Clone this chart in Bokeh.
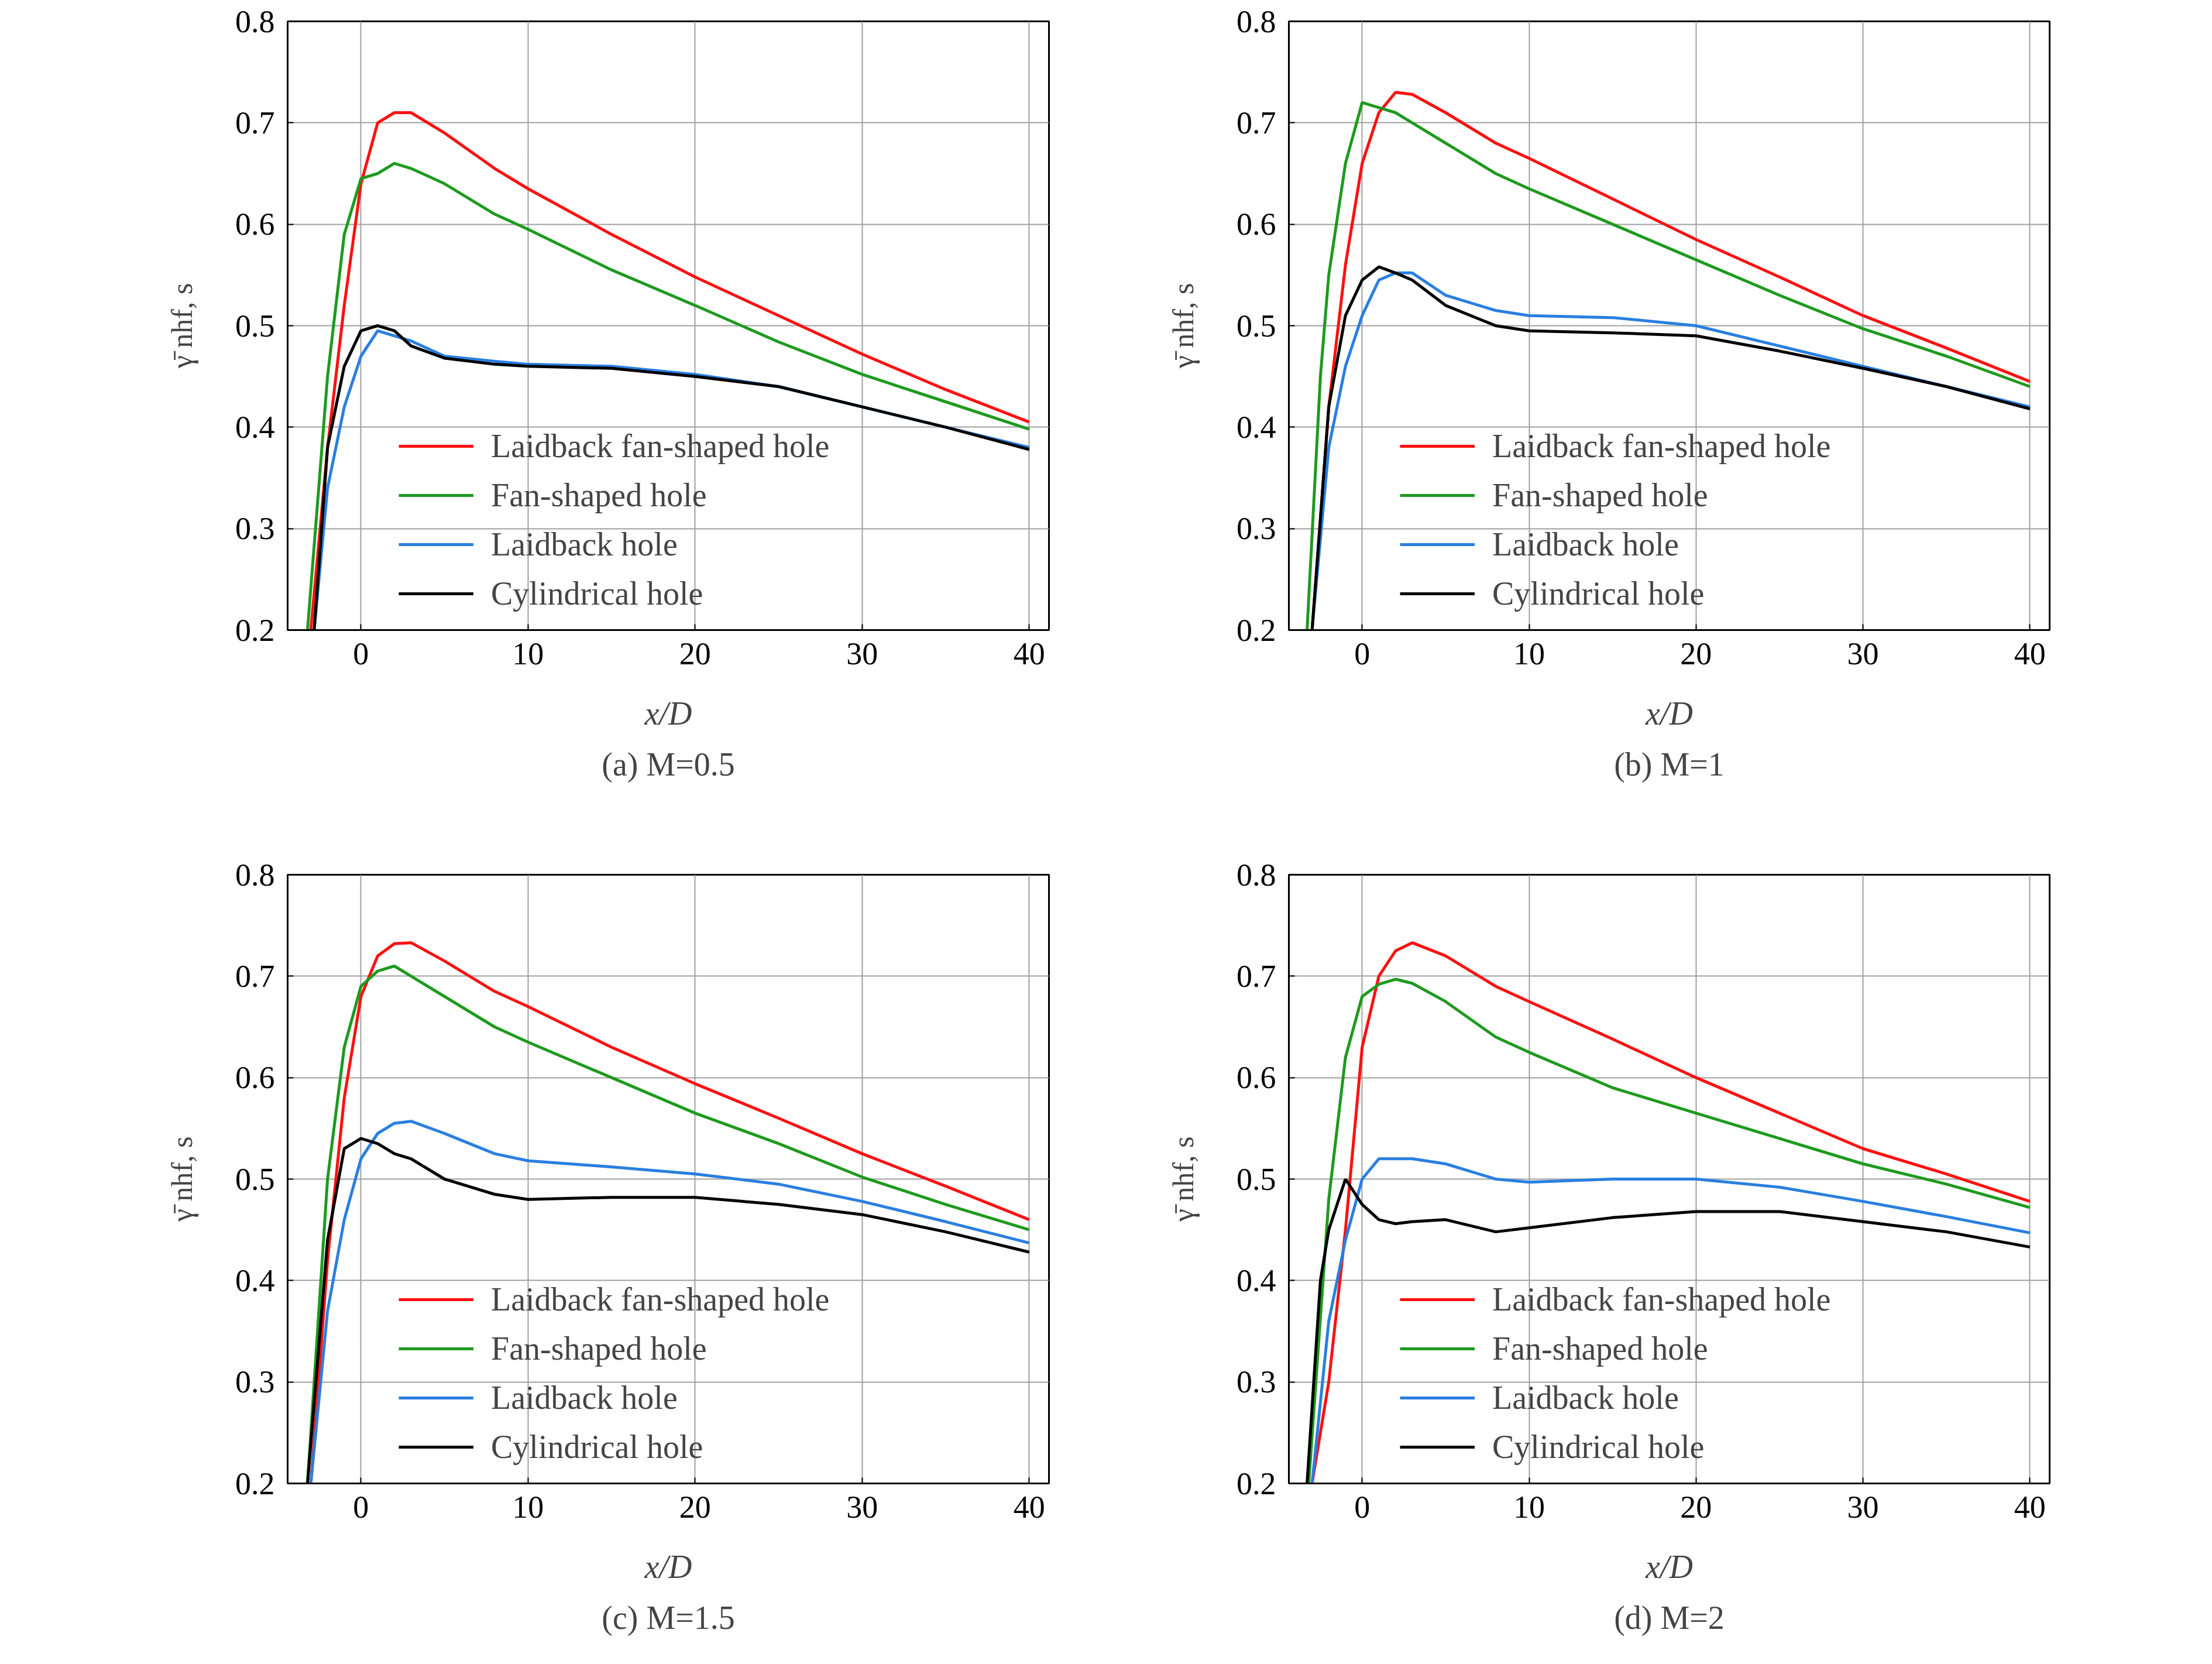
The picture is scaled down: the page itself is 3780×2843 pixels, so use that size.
from bokeh.plotting import figure
from bokeh.layouts import gridplot
from bokeh.models import Range1d, FixedTicker, Title, Legend, LegendItem
from bokeh.embed import file_html
from bokeh.resources import INLINE

series_names = ["Laidback fan-shaped hole", "Fan-shaped hole", "Laidback hole", "Cylindrical hole"]
colors = ["#ff1010", "#1e9a1e", "#2a7fe0", "#000000"]
captions = ["(a) M=0.5", "(b) M=1", "(c) M=1.5", "(d) M=2"]

a_red_x = [-3, -2, -1, 0, 1, 2, 3, 5, 8, 10, 15, 20, 25, 30, 35, 40]
a_red_y = [0.2, 0.38, 0.52, 0.64, 0.70, 0.71, 0.71, 0.69, 0.655, 0.635, 0.59, 0.548, 0.51, 0.472, 0.437, 0.405]
a_grn_x = [-3.2, -2, -1, 0, 1, 2, 3, 5, 8, 10, 15, 20, 25, 30, 35, 40]
a_grn_y = [0.2, 0.45, 0.59, 0.645, 0.65, 0.66, 0.655, 0.64, 0.61, 0.595, 0.555, 0.52, 0.484, 0.452, 0.425, 0.398]
a_blu_x = [-2.8, -2, -1, 0, 1, 2, 3, 5, 8, 10, 15, 20, 25, 30, 35, 40]
a_blu_y = [0.2, 0.34, 0.42, 0.47, 0.495, 0.49, 0.485, 0.47, 0.465, 0.462, 0.46, 0.452, 0.44, 0.42, 0.4, 0.38]
a_blk_x = [-2.8, -2, -1, 0, 1, 2, 3, 5, 8, 10, 15, 20, 25, 30, 35, 40]
a_blk_y = [0.2, 0.38, 0.46, 0.495, 0.5, 0.495, 0.48, 0.468, 0.462, 0.46, 0.458, 0.45, 0.44, 0.42, 0.4, 0.378]

b_red_x = [-3, -2, -1, 0, 1, 2, 3, 5, 8, 10, 15, 20, 25, 30, 35, 40]
b_red_y = [0.2, 0.42, 0.56, 0.66, 0.71, 0.73, 0.728, 0.71, 0.68, 0.665, 0.625, 0.585, 0.548, 0.51, 0.478, 0.445]
b_grn_x = [-3.3, -2.5, -2, -1, 0, 1, 2, 3, 5, 8, 10, 15, 20, 25, 30, 35, 40]
b_grn_y = [0.2, 0.45, 0.55, 0.66, 0.72, 0.715, 0.71, 0.7, 0.68, 0.65, 0.635, 0.6, 0.565, 0.53, 0.497, 0.47, 0.44]
b_blu_x = [-3, -2, -1, 0, 1, 2, 3, 5, 8, 10, 15, 20, 25, 30, 35, 40]
b_blu_y = [0.2, 0.38, 0.46, 0.51, 0.545, 0.552, 0.552, 0.53, 0.515, 0.51, 0.508, 0.5, 0.48, 0.46, 0.44, 0.42]
b_blk_x = [-3, -2, -1, 0, 1, 2, 3, 5, 8, 10, 15, 20, 25, 30, 35, 40]
b_blk_y = [0.2, 0.42, 0.51, 0.545, 0.558, 0.552, 0.545, 0.52, 0.5, 0.495, 0.493, 0.49, 0.475, 0.458, 0.44, 0.418]

c_red_x = [-3, -2, -1, 0, 1, 2, 3, 5, 8, 10, 15, 20, 25, 30, 35, 40]
c_red_y = [0.2, 0.42, 0.58, 0.68, 0.72, 0.732, 0.733, 0.715, 0.685, 0.67, 0.63, 0.594, 0.56, 0.525, 0.493, 0.46]
c_grn_x = [-3.2, -2, -1, 0, 1, 2, 3, 5, 8, 10, 15, 20, 25, 30, 35, 40]
c_grn_y = [0.2, 0.5, 0.63, 0.69, 0.705, 0.71, 0.7, 0.68, 0.65, 0.635, 0.6, 0.565, 0.535, 0.502, 0.475, 0.45]
c_blu_x = [-3, -2, -1, 0, 1, 2, 3, 5, 8, 10, 15, 20, 25, 30, 35, 40]
c_blu_y = [0.2, 0.37, 0.46, 0.52, 0.545, 0.555, 0.557, 0.545, 0.525, 0.518, 0.512, 0.505, 0.495, 0.478, 0.458, 0.437]
c_blk_x = [-3.2, -2, -1, 0, 1, 2, 3, 5, 8, 10, 15, 20, 25, 30, 35, 40]
c_blk_y = [0.2, 0.44, 0.53, 0.54, 0.535, 0.525, 0.52, 0.5, 0.485, 0.48, 0.482, 0.482, 0.475, 0.465, 0.448, 0.428]

d_red_x = [-3, -2, -1, 0, 1, 2, 3, 5, 8, 10, 15, 20, 25, 30, 35, 40]
d_red_y = [0.2, 0.3, 0.45, 0.63, 0.7, 0.725, 0.733, 0.72, 0.69, 0.675, 0.638, 0.6, 0.565, 0.53, 0.505, 0.478]
d_grn_x = [-3.2, -2, -1, 0, 1, 2, 3, 5, 8, 10, 15, 20, 25, 30, 35, 40]
d_grn_y = [0.2, 0.48, 0.62, 0.68, 0.692, 0.697, 0.693, 0.675, 0.64, 0.625, 0.59, 0.565, 0.54, 0.515, 0.495, 0.472]
d_blu_x = [-3, -2, -1, 0, 1, 2, 3, 5, 8, 10, 15, 20, 25, 30, 35, 40]
d_blu_y = [0.2, 0.36, 0.44, 0.5, 0.52, 0.52, 0.52, 0.515, 0.5, 0.497, 0.5, 0.5, 0.492, 0.478, 0.463, 0.447]
d_blk_x = [-3.3, -2.5, -2, -1, 0, 1, 2, 3, 5, 8, 10, 15, 20, 25, 30, 35, 40]
d_blk_y = [0.2, 0.4, 0.45, 0.5, 0.475, 0.46, 0.456, 0.458, 0.46, 0.448, 0.452, 0.462, 0.468, 0.468, 0.458, 0.448, 0.433]

x_ticks = [0, 10, 20, 30, 40]
y_ticks = [0.2, 0.3, 0.4, 0.5, 0.6, 0.7, 0.8]
y_label = "γ̄ nhf, s"

panels = [
    [(a_red_x, a_red_y), (a_grn_x, a_grn_y), (a_blu_x, a_blu_y), (a_blk_x, a_blk_y)],
    [(b_red_x, b_red_y), (b_grn_x, b_grn_y), (b_blu_x, b_blu_y), (b_blk_x, b_blk_y)],
    [(c_red_x, c_red_y), (c_grn_x, c_grn_y), (c_blu_x, c_blu_y), (c_blk_x, c_blk_y)],
    [(d_red_x, d_red_y), (d_grn_x, d_grn_y), (d_blu_x, d_blu_y), (d_blk_x, d_blk_y)],
]

FONT = "Liberation Serif"
borders = [(491, 88, 36, 334), (322, 258, 36, 334), (491, 88, 84, 286), (322, 258, 84, 286)]
figs = []
for i, data in enumerate(panels):
    bl, br, bt, bb = borders[i]
    p = figure(width=1880, height=1410, output_backend="svg", toolbar_location=None,
               x_range=Range1d(-4.39, 41.18), y_range=Range1d(0.2, 0.8),
               min_border_left=bl, min_border_right=br, min_border_top=bt, min_border_bottom=bb)
    p.outline_line_color = "black"
    p.outline_line_width = 3
    p.xaxis.ticker = FixedTicker(ticks=x_ticks)
    p.yaxis.ticker = FixedTicker(ticks=y_ticks)
    for ax in (p.xaxis, p.yaxis):
        ax.major_label_text_font = FONT
        ax.major_label_text_font_size = "54px"
        ax.major_label_text_color = "black"
        ax.axis_line_color = "black"
        ax.axis_line_width = 3
        ax.major_tick_in = 10
        ax.major_tick_out = 0
        ax.major_tick_line_width = 2
        ax.minor_tick_line_color = None
        ax.major_label_standoff = 22
    p.xaxis.axis_label = "x/D"
    p.xaxis.axis_label_text_font = FONT
    p.xaxis.axis_label_text_font_style = "italic"
    p.xaxis.axis_label_text_font_size = "56px"
    p.xaxis.axis_label_standoff = 50
    p.yaxis.axis_label = y_label
    p.yaxis.axis_label_text_font = FONT
    p.yaxis.axis_label_text_font_style = "normal"
    p.yaxis.axis_label_text_font_size = "50px"
    p.yaxis.axis_label_standoff = 60
    p.grid.grid_line_color = "#a0a0a0"
    p.grid.grid_line_width = 2
    items = []
    for (xs, ys), name, c in zip(data, series_names, colors):
        r = p.line(xs, ys, line_color=c, line_width=5)
        items.append(LegendItem(label=name, renderers=[r]))
    leg = Legend(items=items, location=(190, 30), border_line_color=None,
                 background_fill_alpha=0, label_text_font=FONT, label_text_font_size="56px",
                 glyph_width=128, glyph_height=60, label_height=60, spacing=20,
                 label_standoff=30, padding=0, margin=0)
    p.add_layout(leg, "center")
    p.add_layout(Title(text=captions[i], align="center", text_font=FONT,
                       text_font_size="56px", text_font_style="normal", standoff=40), "below")
    figs.append(p)

grid = gridplot([[figs[0], figs[1]], [figs[2], figs[3]]], toolbar_location=None)
open("out.html", "w").write(file_html(grid, INLINE))
